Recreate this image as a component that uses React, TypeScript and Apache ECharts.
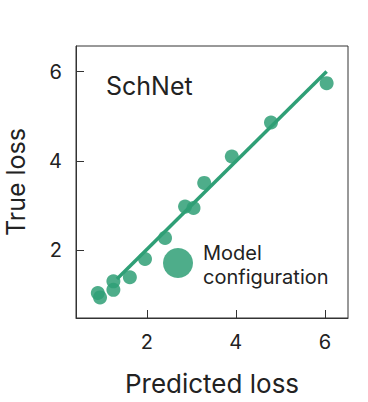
import React, { useEffect, useRef } from "react";
import * as echarts from "echarts";

const predicted = [0.9, 0.95, 1.25, 1.25, 1.62, 1.96, 2.41, 2.86, 3.05, 3.29, 3.91, 4.79, 6.04];
const trueLoss = [1.05, 0.95, 1.31, 1.12, 1.4, 1.81, 2.28, 2.98, 2.95, 3.51, 4.1, 4.86, 5.74];
const fitX = [1.33, 6.04];
const fitY = [1.36, 6.0];
const xTicks = [2, 4, 6];
const yTicks = [2, 4, 6];

const FONT = "Inter";
const GREEN = "#2f9f76";

export default function App() {
  const ref = useRef<HTMLDivElement>(null);
  useEffect(() => {
    document.body.style.margin = "0";
    const chart = echarts.init(ref.current!, null, { renderer: "svg" });
    chart.setOption({
      animation: false,
      grid: { left: 76, top: 46, right: 20, bottom: 84, containLabel: false, outerBoundsMode: "none" },
      xAxis: {
        type: "value",
        min: 0.41,
        max: 6.52,
        name: "Predicted loss",
        nameLocation: "middle",
        nameGap: 52,
        nameTextStyle: { fontFamily: FONT, fontSize: 26, color: "#222" },
        axisLine: { show: true, lineStyle: { color: "#333", width: 1 } },
        axisTick: { show: true, inside: true, length: 8, lineStyle: { color: "#333" }, customValues: xTicks },
        axisLabel: { fontFamily: FONT, fontSize: 20, color: "#222", margin: 14, customValues: xTicks },
        splitLine: { show: false },
      },
      yAxis: {
        type: "value",
        min: 0.49,
        max: 6.57,
        name: "True loss",
        nameLocation: "middle",
        nameGap: 48,
        nameTextStyle: { fontFamily: FONT, fontSize: 25, color: "#222" },
        axisLine: { show: true, lineStyle: { color: "#333", width: 1 } },
        axisTick: { show: true, inside: true, length: 8, lineStyle: { color: "#333" }, customValues: yTicks },
        axisLabel: { fontFamily: FONT, fontSize: 20, color: "#222", margin: 14, customValues: yTicks },
        splitLine: { show: false },
      },
      graphic: [
        {
          type: "rect",
          shape: { x: 76, y: 46, width: 272, height: 272 },
          style: { fill: "none", stroke: "#333", lineWidth: 1 },
          silent: true,
        },
        {
          type: "text",
          x: 106,
          y: 73,
          style: { text: "SchNet", fontFamily: FONT, fontSize: 25, fill: "#222" },
        },
        {
          type: "circle",
          shape: { cx: 178, cy: 263, r: 15 },
          style: { fill: GREEN, opacity: 0.85 },
        },
        {
          type: "text",
          x: 203,
          y: 241,
          style: {
            text: "Model\nconfiguration",
            fontFamily: FONT,
            fontSize: 20,
            lineHeight: 24,
            fill: "#222",
          },
        },
      ],
      series: [
        {
          type: "line",
          data: fitX.map((x, i) => [x, fitY[i]]),
          showSymbol: false,
          symbol: "none",
          lineStyle: { color: GREEN, width: 3.5 },
          z: 2,
        },
        {
          type: "scatter",
          data: predicted.map((x, i) => [x, trueLoss[i]]),
          symbolSize: 14,
          itemStyle: { color: GREEN, opacity: 0.85 },
          z: 3,
        },
      ],
    });
    return () => chart.dispose();
  }, []);
  return <div ref={ref} style={{ width: 368, height: 402 }} />;
}
